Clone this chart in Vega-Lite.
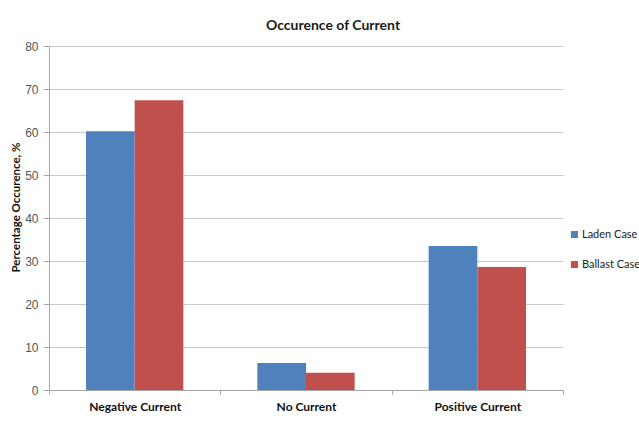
{
  "$schema": "https://vega.github.io/schema/vega-lite/v6.json",
  "autosize": {"type": "none"},
  "width": 514,
  "height": 344,
  "padding": {"left": 49, "top": 46, "right": 76, "bottom": 52},
  "background": "white",
  "title": {
    "text": "Occurence of Current",
    "font": "Lato",
    "fontSize": 14,
    "fontWeight": "bold",
    "color": "#1a1a1a",
    "anchor": "middle",
    "dx": 27,
    "dy": 21,
    "baseline": "alphabetic",
    "offset": 17
  },
  "data": {
    "values": [
      {"category": "Negative Current", "case": "Laden Case", "percent": 60.2},
      {"category": "Negative Current", "case": "Ballast Case", "percent": 67.4},
      {"category": "No Current", "case": "Laden Case", "percent": 6.3},
      {"category": "No Current", "case": "Ballast Case", "percent": 4.0},
      {"category": "Positive Current", "case": "Laden Case", "percent": 33.5},
      {"category": "Positive Current", "case": "Ballast Case", "percent": 28.6}
    ]
  },
  "mark": {"type": "bar"},
  "encoding": {
    "x": {
      "field": "category",
      "type": "nominal",
      "sort": ["Negative Current", "No Current", "Positive Current"],
      "scale": {"paddingInner": 0, "paddingOuter": 0},
      "axis": {
        "title": null,
        "labelAngle": 0,
        "labelFont": "Lato",
        "labelFontSize": 12,
        "labelFontWeight": "bold",
        "labelColor": "#111",
        "labelPadding": 7,
        "tickBand": "extent",
        "tickSize": 4,
        "tickColor": "#a6a6a6",
        "domainColor": "#a6a6a6",
        "grid": false
      }
    },
    "xOffset": {
      "field": "case",
      "type": "nominal",
      "sort": ["Laden Case", "Ballast Case"],
      "scale": {"paddingInner": 0, "paddingOuter": 0.76}
    },
    "y": {
      "field": "percent",
      "type": "quantitative",
      "scale": {"domain": [0, 80], "nice": false},
      "axis": {
        "title": "Percentage  Occurence, %",
        "titleFont": "Lato",
        "titleFontSize": 11.5,
        "titleFontWeight": "bold",
        "titleColor": "#111",
        "titleAngle": -90,
        "titleX": -33,
        "titleY": 161,
        "titleAlign": "center",
        "titleBaseline": "middle",
        "values": [0, 10, 20, 30, 40, 50, 60, 70, 80],
        "labelFont": "Liberation Sans",
        "labelFontSize": 12,
        "labelColor": "#555555",
        "labelPadding": 5,
        "tickSize": 6,
        "tickColor": "#a6a6a6",
        "domainColor": "#a6a6a6",
        "gridColor": "#c8c8c8",
        "grid": true
      }
    },
    "color": {
      "field": "case",
      "type": "nominal",
      "sort": ["Laden Case", "Ballast Case"],
      "scale": {"domain": ["Laden Case", "Ballast Case"], "range": ["#4F81BD", "#C0504D"]},
      "legend": {
        "title": null,
        "orient": "none",
        "legendX": 520,
        "legendY": 183,
        "padding": 0,
        "symbolType": "square",
        "symbolSize": 49,
        "symbolStrokeWidth": 0,
        "labelFont": "Lato",
        "labelFontSize": 11,
        "labelColor": "#222",
        "labelOffset": 2,
        "rowPadding": 18
      }
    }
  },
  "config": {
    "view": {"stroke": null},
    "axis": {"domainWidth": 1, "tickWidth": 1, "gridWidth": 1}
  }
}
